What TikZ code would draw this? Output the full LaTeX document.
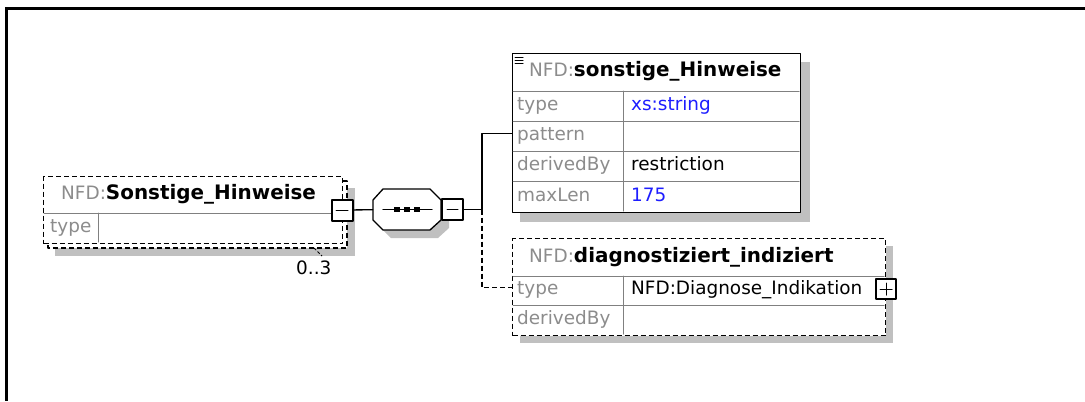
\documentclass[tikz,border=0pt]{standalone}
\usepackage{fontspec}
\setmainfont{DejaVu Sans}
\usepackage{tikz}
\definecolor{nsgray}{RGB}{140,140,140}
\definecolor{valblue}{RGB}{30,30,255}
\definecolor{shadowgray}{RGB}{192,192,192}
\definecolor{rulegray}{RGB}{128,128,128}
\newcommand{\nfd}{{\fontsize{18.5}{21}\selectfont\mdseries\textcolor{nsgray}{NFD:}}}

\begin{document}
\begin{tikzpicture}[line cap=round,line join=round,x=1bp,y=-1bp,
  txt/.style={anchor=west,inner sep=0pt,text height=13bp,text depth=4bp,font=\fontsize{18.5}{21}\selectfont},
  lbl/.style={txt,text=nsgray},
  val/.style={txt,text=valblue},
  hdr/.style={txt,font=\fontsize{20}{22}\selectfont\bfseries},
  elembox/.style={draw,fill=white,line width=1.4bp,anchor=north west,inner sep=0pt},
  optbox/.style={elembox,dash pattern=on 5bp off 3bp,line cap=butt},
  tog/.style={draw,fill=white,line width=2bp,minimum size=21bp,inner sep=0pt},
  rule/.style={rulegray,line width=1bp},
  conn/.style={line width=1.3bp}]
\useasboundingbox (0,0) rectangle (1085,401);
% frame
\fill (5,6.5) rectangle (1085,9.5);
\fill (5,6.5) rectangle (8,401);
% element Sonstige_Hinweise (0..3)
\fill[shadowgray] (55,188) rectangle (355,256);
\draw[fill=white,line width=1.4bp,dash pattern=on 5bp off 3bp,line cap=butt] (48,181) rectangle (347,248);
\node[optbox,minimum width=299bp,minimum height=67bp] (elem) at (43,176) {};
\draw[rule] (44,213) -- (331,213);
\draw[rule] (98,213) -- (98,242);
\node[hdr] (elemname) at (61,195) {\nfd Sonstige\_Hinweise};
\node[lbl] (elemtype) at (50,228) {type};
\node[tog] (emin) at (342,210) {};
\draw[line width=1bp] (336,210) -- (348,210);
\draw[line width=1bp,dash pattern=on 3bp off 2bp,line cap=butt] (314,248) -- (322,256);
\node[txt] (card) at (296,270) {0..3};
% sequence
\fill[shadowgray] (381,208) -- (391,197) -- (438,197) -- (449,208) -- (449,228) -- (438,238) -- (391,238) -- (381,228) -- cycle;
\draw[line width=1.3bp,fill=white] (373,200) -- (383,189) -- (430,189) -- (441,200) -- (441,220) -- (430,230) -- (383,230) -- (373,220) -- cycle;
\node[minimum width=68bp,minimum height=41bp,inner sep=0pt] (seq) at (407,209.5) {};
\draw[line width=1.3bp] (383,209.5) -- (432,209.5);
\foreach \x in {397,407,417}
  \fill (\x-3,207) rectangle (\x+3,212);
\node[tog] (cmin) at (452.5,209.5) {};
\draw[line width=1bp] (447,209.5) -- (458,209.5);
\coordinate (jn) at (482,209.5);
\draw[conn] (emin) -- (seq);
\draw[conn] (cmin) -- (jn);
% sonstige_Hinweise
\fill[shadowgray] (520,62) rectangle (810,222);
\node[elembox,minimum width=288bp,minimum height=159bp] (hinw) at (512,53) {};
\foreach \y in {91,121,151,181}
  \draw[rule] (513,\y) -- (799,\y);
\draw[rule] (623,91) -- (623,211);
\foreach \y in {57.5,60.5,63.5}
  \draw[line width=1bp] (515,\y) -- (523,\y);
\node[hdr] (hinwname) at (529,72) {\nfd sonstige\_Hinweise};
\node[lbl] (hinwtype) at (517,106) {type};
\node[lbl] (hinwpat) at (517,136) {pattern};
\node[lbl] (hinwder) at (517,166) {derivedBy};
\node[lbl] (hinwmax) at (517,196.5) {maxLen};
\node[val] (hinwtypev) at (631,106) {xs:string};
\node[txt] (hinwderv) at (631,166) {restriction};
\node[val] (hinwmaxv) at (631,196.5) {175};
% diagnostiziert_indiziert
\fill[shadowgray] (520,246) rectangle (893,343);
\node[optbox,minimum width=373bp,minimum height=97bp] (diag) at (512,238) {};
\draw[rule] (513,276) -- (884,276);
\draw[rule] (513,305) -- (884,305);
\draw[rule] (623,276) -- (623,334);
\node[hdr] (diagname) at (529,258) {\nfd diagnostiziert\_indiziert};
\node[lbl] (diagtype) at (517,290) {type};
\node[txt] (diagtypev) at (631,290) {NFD:Diagnose\_Indikation};
\node[lbl] (diagder) at (517,320) {derivedBy};
\node[tog,minimum size=20bp] (dplus) at (886,289) {};
\draw[line width=1bp] (880,289) -- (892,289);
\draw[line width=1bp] (886,283) -- (886,295);
% connectors
\draw[conn] (jn) |- (hinw.west);
\draw[conn,dash pattern=on 5bp off 3bp,line cap=butt] (jn) |- (diag.west);
\end{tikzpicture}
\end{document}
